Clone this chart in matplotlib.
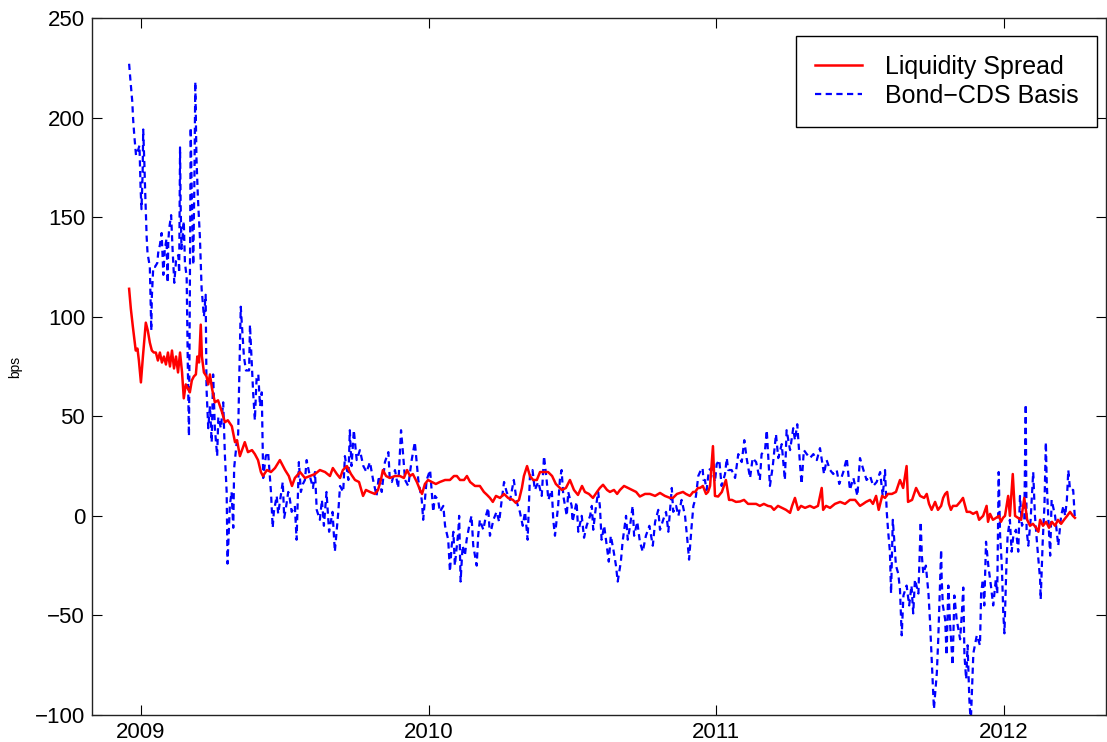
import matplotlib
matplotlib.use("Agg")
import matplotlib.pyplot as plt

plt.rcParams["font.family"] = ["Liberation Sans", "DejaVu Sans"]

# Liquidity spread (bps), dates as decimal years
red_years = [
    2008.959, 2008.965, 2008.972, 2008.982, 2008.988, 2008.993, 2009.000, 2009.007, 2009.017, 2009.024,
    2009.031, 2009.038, 2009.045, 2009.052, 2009.059, 2009.066, 2009.073, 2009.080, 2009.087, 2009.094,
    2009.101, 2009.108, 2009.115, 2009.122, 2009.129, 2009.136, 2009.143, 2009.149, 2009.156, 2009.163,
    2009.170, 2009.177, 2009.184, 2009.191, 2009.196, 2009.202, 2009.208, 2009.212, 2009.219, 2009.228,
    2009.234, 2009.240, 2009.247, 2009.257, 2009.268, 2009.275, 2009.282, 2009.292, 2009.302, 2009.316,
    2009.327, 2009.334, 2009.344, 2009.361, 2009.372, 2009.386, 2009.396, 2009.407, 2009.417, 2009.424,
    2009.438, 2009.452, 2009.466, 2009.483, 2009.501, 2009.514, 2009.525, 2009.535, 2009.553, 2009.570,
    2009.587, 2009.605, 2009.622, 2009.640, 2009.657, 2009.667, 2009.681, 2009.692, 2009.702, 2009.716,
    2009.730, 2009.744, 2009.758, 2009.772, 2009.782, 2009.796, 2009.813, 2009.824, 2009.834, 2009.841,
    2009.852, 2009.865, 2009.883, 2009.900, 2009.914, 2009.925, 2009.935, 2009.945, 2009.959, 2009.970,
    2009.977, 2009.987, 2009.998, 2010.011, 2010.025, 2010.039, 2010.057, 2010.074, 2010.088, 2010.098,
    2010.109, 2010.123, 2010.133, 2010.144, 2010.161, 2010.178, 2010.192, 2010.203, 2010.213, 2010.223,
    2010.234, 2010.248, 2010.262, 2010.276, 2010.293, 2010.303, 2010.314, 2010.324, 2010.331, 2010.342,
    2010.352, 2010.363, 2010.376, 2010.387, 2010.401, 2010.415, 2010.429, 2010.442, 2010.449, 2010.463,
    2010.477, 2010.491, 2010.505, 2010.519, 2010.533, 2010.543, 2010.557, 2010.571, 2010.585, 2010.595,
    2010.606, 2010.620, 2010.630, 2010.644, 2010.655, 2010.665, 2010.679, 2010.693, 2010.707, 2010.721,
    2010.734, 2010.752, 2010.769, 2010.787, 2010.804, 2010.821, 2010.839, 2010.849, 2010.863, 2010.873,
    2010.884, 2010.894, 2010.908, 2010.919, 2010.926, 2010.936, 2010.943, 2010.953, 2010.964, 2010.971,
    2010.978, 2010.988, 2010.995, 2011.006, 2011.019, 2011.033, 2011.044, 2011.054, 2011.068, 2011.082,
    2011.096, 2011.110, 2011.124, 2011.138, 2011.151, 2011.165, 2011.179, 2011.190, 2011.200, 2011.214,
    2011.228, 2011.242, 2011.256, 2011.263, 2011.273, 2011.284, 2011.294, 2011.308, 2011.325, 2011.339,
    2011.353, 2011.366, 2011.371, 2011.381, 2011.395, 2011.412, 2011.430, 2011.447, 2011.464, 2011.482,
    2011.499, 2011.510, 2011.520, 2011.534, 2011.544, 2011.555, 2011.564, 2011.576, 2011.586, 2011.596,
    2011.610, 2011.624, 2011.638, 2011.649, 2011.661, 2011.666, 2011.680, 2011.694, 2011.708, 2011.722,
    2011.731, 2011.739, 2011.748, 2011.760, 2011.770, 2011.781, 2011.788, 2011.795, 2011.802, 2011.808,
    2011.815, 2011.822, 2011.835, 2011.847, 2011.857, 2011.870, 2011.881, 2011.892, 2011.905, 2011.913,
    2011.927, 2011.939, 2011.944, 2011.951, 2011.961, 2011.972, 2011.982, 2011.989, 2011.996, 2012.003,
    2012.014, 2012.020, 2012.030, 2012.038, 2012.048, 2012.059, 2012.070, 2012.080, 2012.090, 2012.100,
    2012.111, 2012.119, 2012.125, 2012.135, 2012.146, 2012.156, 2012.166, 2012.177, 2012.187, 2012.198,
    2012.208, 2012.219, 2012.229, 2012.239, 2012.246,
]
red_bps = [
    114, 104, 95, 83, 84, 78, 67, 80, 97, 93,
    87, 83, 82, 82, 78, 82, 77, 80, 76, 82,
    75, 83, 74, 80, 72, 82, 72, 59, 66, 64,
    62, 68, 70, 71, 80, 77, 96, 80, 72, 70,
    66, 71, 64, 57, 58, 55, 52, 47, 48, 45,
    37, 38, 30, 37, 32, 33, 31, 28, 22, 20,
    23, 22, 24, 28, 23, 20, 15, 19, 22, 19,
    20, 21, 23, 22, 20, 24, 21, 19, 23, 25,
    21, 18, 17, 10, 13, 12, 11, 13, 18, 23,
    20, 19, 20, 20, 19, 23, 20, 21, 17, 13,
    11, 16, 18, 17, 16, 17, 18, 18, 20, 20,
    18, 18, 20, 17, 15, 15, 12, 10.5, 9, 7,
    10, 9, 11, 9, 8, 6.5, 8, 14, 20, 25,
    20, 18, 18, 22, 22, 22, 20, 16, 15, 13,
    14, 18, 13, 10.5, 15, 12, 11, 9, 12, 14,
    15.6, 13, 12, 13, 11, 13, 15, 14, 13, 12,
    9.7, 11, 11, 10, 11.5, 10, 9, 9, 11, 11.5,
    12, 11, 10, 12, 12, 14, 14, 15, 11, 12,
    15, 35, 10, 9.7, 12, 18, 8, 8, 7, 7.2,
    8, 6, 6, 6, 5, 6, 5, 4.7, 3, 5,
    4, 3, 1.5, 5, 9, 3, 5, 4, 5, 4,
    5, 14, 3, 5, 4, 6, 7, 6, 8, 8,
    5, 6, 7, 8, 6, 10, 3, 10, 9, 11,
    11, 12, 18, 14, 25, 7, 8, 14, 10, 9,
    11, 6, 3, 7, 3, 5, 9, 11, 12, 6,
    3, 5, 5, 7, 9, 2, 2, 1, 2, -2,
    0, 5, -3, 1, -2, -1, 0, -3, -1, 0,
    10, 0, 21, 0, -1, -2, 9, -2, -5, -4,
    -6, -8, -2, -5, -3, -6, -3, -5, -2, -4,
    -2, 0, 2, 0, -1,
]

# Bond-CDS basis (bps)
blue_years = [
    2008.959, 2008.964, 2008.970, 2008.973, 2008.977, 2008.983, 2008.991, 2008.995, 2008.999, 2009.002,
    2009.006, 2009.008, 2009.012, 2009.015, 2009.020, 2009.023, 2009.031, 2009.034, 2009.036, 2009.038,
    2009.043, 2009.049, 2009.057, 2009.060, 2009.066, 2009.072, 2009.078, 2009.083, 2009.089, 2009.093,
    2009.095, 2009.098, 2009.105, 2009.110, 2009.116, 2009.122, 2009.130, 2009.133, 2009.136, 2009.138,
    2009.141, 2009.145, 2009.149, 2009.153, 2009.159, 2009.163, 2009.167, 2009.170, 2009.173, 2009.177,
    2009.182, 2009.186, 2009.189, 2009.193, 2009.198, 2009.205, 2009.211, 2009.219, 2009.225, 2009.228,
    2009.234, 2009.240, 2009.246, 2009.251, 2009.257, 2009.265, 2009.269, 2009.278, 2009.286, 2009.292,
    2009.298, 2009.301, 2009.309, 2009.315, 2009.321, 2009.324, 2009.333, 2009.338, 2009.341, 2009.347,
    2009.353, 2009.358, 2009.365, 2009.376, 2009.379, 2009.385, 2009.390, 2009.396, 2009.402, 2009.408,
    2009.414, 2009.420, 2009.423, 2009.425, 2009.434, 2009.442, 2009.452, 2009.458, 2009.462, 2009.472,
    2009.477, 2009.485, 2009.493, 2009.498, 2009.504, 2009.512, 2009.516, 2009.524, 2009.535, 2009.541,
    2009.549, 2009.556, 2009.563, 2009.570, 2009.576, 2009.587, 2009.598, 2009.605, 2009.611, 2009.622,
    2009.629, 2009.636, 2009.645, 2009.654, 2009.666, 2009.674, 2009.686, 2009.692, 2009.703, 2009.709,
    2009.721, 2009.726, 2009.732, 2009.740, 2009.750, 2009.761, 2009.773, 2009.784, 2009.796, 2009.807,
    2009.819, 2009.827, 2009.837, 2009.848, 2009.860, 2009.865, 2009.872, 2009.883, 2009.894, 2009.904,
    2009.910, 2009.918, 2009.929, 2009.941, 2009.952, 2009.964, 2009.976, 2009.981, 2009.993, 2010.005,
    2010.016, 2010.022, 2010.033, 2010.039, 2010.051, 2010.057, 2010.068, 2010.074, 2010.080, 2010.086,
    2010.091, 2010.103, 2010.106, 2010.111, 2010.118, 2010.126, 2010.132, 2010.141, 2010.149, 2010.155,
    2010.167, 2010.172, 2010.178, 2010.190, 2010.199, 2010.207, 2010.213, 2010.225, 2010.236, 2010.245,
    2010.254, 2010.262, 2010.271, 2010.283, 2010.296, 2010.306, 2010.317, 2010.327, 2010.335, 2010.344,
    2010.352, 2010.361, 2010.369, 2010.381, 2010.393, 2010.401, 2010.410, 2010.416, 2010.428, 2010.433,
    2010.439, 2010.450, 2010.456, 2010.462, 2010.468, 2010.480, 2010.485, 2010.497, 2010.500, 2010.514,
    2010.520, 2010.532, 2010.540, 2010.549, 2010.561, 2010.567, 2010.572, 2010.580, 2010.589, 2010.595,
    2010.601, 2010.610, 2010.619, 2010.626, 2010.633, 2010.642, 2010.651, 2010.657, 2010.668, 2010.674,
    2010.686, 2010.692, 2010.700, 2010.709, 2010.714, 2010.725, 2010.734, 2010.744, 2010.755, 2010.767,
    2010.779, 2010.787, 2010.798, 2010.804, 2010.815, 2010.825, 2010.833, 2010.845, 2010.850, 2010.860,
    2010.868, 2010.879, 2010.891, 2010.899, 2010.905, 2010.914, 2010.920, 2010.926, 2010.929, 2010.937,
    2010.946, 2010.952, 2010.955, 2010.960, 2010.966, 2010.974, 2010.984, 2010.995, 2011.001, 2011.010,
    2011.018, 2011.030, 2011.036, 2011.041, 2011.053, 2011.065, 2011.076, 2011.088, 2011.097, 2011.105,
    2011.117, 2011.126, 2011.138, 2011.151, 2011.157, 2011.169, 2011.175, 2011.186, 2011.196, 2011.207,
    2011.215, 2011.227, 2011.238, 2011.244, 2011.256, 2011.267, 2011.273, 2011.281, 2011.291, 2011.296,
    2011.304, 2011.314, 2011.325, 2011.337, 2011.349, 2011.360, 2011.374, 2011.383, 2011.395, 2011.406,
    2011.418, 2011.427, 2011.441, 2011.453, 2011.464, 2011.476, 2011.490, 2011.499, 2011.511, 2011.522,
    2011.534, 2011.545, 2011.557, 2011.569, 2011.578, 2011.586, 2011.592, 2011.597, 2011.603, 2011.607,
    2011.613, 2011.618, 2011.624, 2011.632, 2011.638, 2011.644, 2011.650, 2011.661, 2011.670, 2011.678,
    2011.684, 2011.690, 2011.702, 2011.710, 2011.714, 2011.719, 2011.728, 2011.737, 2011.742, 2011.746,
    2011.750, 2011.756, 2011.766, 2011.771, 2011.781, 2011.783, 2011.787, 2011.795, 2011.800, 2011.806,
    2011.812, 2011.821, 2011.827, 2011.835, 2011.847, 2011.853, 2011.858, 2011.862, 2011.868, 2011.873,
    2011.879, 2011.884, 2011.893, 2011.905, 2011.916, 2011.920, 2011.926, 2011.931, 2011.937, 2011.945,
    2011.954, 2011.962, 2011.971, 2011.976, 2011.981, 2011.986, 2011.992, 2011.997, 2012.001, 2012.007,
    2012.012, 2012.020, 2012.026, 2012.032, 2012.041, 2012.049, 2012.055, 2012.062, 2012.070, 2012.075,
    2012.078, 2012.084, 2012.092, 2012.101, 2012.107, 2012.115, 2012.125, 2012.127, 2012.134, 2012.140,
    2012.145, 2012.148, 2012.154, 2012.160, 2012.165, 2012.177, 2012.188, 2012.198, 2012.206, 2012.212,
    2012.218, 2012.223, 2012.229, 2012.240, 2012.246,
]
blue_bps = [
    227, 218, 208, 199, 191, 181, 184, 186, 164, 154,
    172, 194, 177, 162, 140, 132, 125, 107, 93, 110,
    125, 125, 127, 132, 136, 142, 121, 134, 139, 117,
    137, 144, 151, 134, 117, 128, 131, 122, 185, 157,
    134, 141, 148, 127, 120, 75, 40, 110, 195, 160,
    126, 170, 218, 180, 160, 140, 114, 100, 111, 64,
    44, 55, 37, 71, 44, 30, 49.5, 44, 57, 30,
    12, -24, 5, 12, -6, 24, 37, 41, 64, 105,
    91, 80, 73, 73, 96, 78, 62, 48, 69, 71,
    55, 62, 37, 19, 30, 32, 12, -6, 2, 10,
    1, 9, 17, -1, 4, 12, 10, 2, 5, -12,
    27, 12, 16, 18, 28, 20, 14, 22, 3, -2,
    8, -5, 12, -8, 2, -18, 2, 15, 12, 30,
    18, 43, 25, 43, 28, 33, 25, 22, 27, 18,
    10, 20, 12, 27, 32, 18, 17, 23, 14, 43,
    33, 18, 15, 28, 37, 18, 8, -2, 18, 23,
    2, 10, 8, 2, 5, -5, -12, -28, -15, -8,
    -25, -8, 0, -33, -15, -20, -12, -5, 0, -15,
    -25, -10, -2, -7, 0, 4, -10, -2, 2, -3,
    8, 17, 12, 8, 18, 7, 2, -5, 2, -12,
    20, 23, 13, 17, 10, 30, 18, 8, 13, -2,
    -10, 5, 18, 23, 10, 0, 12, 5, -3, 7,
    -8, 0, -11, -5, 0, 5, -7, 3, 12, 5,
    -12, -5, -15, -23, -10, -17, -25, -33, -23, -13,
    0, -12, -5, 5, -10, -3, -13, -18, -10, -5,
    -15, -3, 3, -7, -2, 2, -8, 14, 2, 5,
    0, 8, 0, -12, -22, -5, 5, 8, 10, 20,
    23, 24, 18, 18, 13, 23, 24, 17, 26, 28,
    15, 21, 29, 23, 23, 19, 31, 27, 38, 29,
    19, 29, 27, 18, 31, 33, 43, 15, 25, 41,
    29, 36, 18, 43, 33, 44, 38, 46, 25, 16,
    33, 31, 29, 31, 28, 34, 21, 28, 23, 21,
    23, 16, 22, 29, 13, 19, 10, 29, 23, 18,
    20, 15, 17, 22, 10, 23, 2, -8, -18, -39,
    -2, -12, -25, -29, -37, -60, -40, -35, -45, -35,
    -49, -32, -39, -3, -20, -29, -25, -39, -52, -65,
    -79, -97, -79, -62, -17, -32, -45, -52, -70, -35,
    -54, -75, -40, -52, -62, -49, -36, -70, -82, -65,
    -92, -104, -69, -60, -65, -39, -32, -45, -13, -25,
    -35, -45, -32, -39, 22, -10, -25, -49, -59, -29,
    -10, -2, -18, -10, -7, -18, 10, -5, -2, 56,
    -7, -15, -2, 22, 0, -15, -32, -42, -13, 5,
    37, 17, -3, -20, 8, 0, -15, 0, 5, 0,
    8, 23, 13, 13, -2,
]

years = [2009, 2010, 2011, 2012]  # x tick positions
y_ticks = [-100, -50, 0, 50, 100, 150, 200, 250]

fig = plt.figure(figsize=(11.07, 7.42), dpi=100)
ax = fig.add_axes([0.0831, 0.0364, 0.916, 0.9394])

ax.plot(red_years, red_bps, color="#ff0000", linewidth=1.8, label="Liquidity Spread", zorder=3)
ax.plot(blue_years, blue_bps, color="#0000ff", linewidth=1.6, linestyle=(0, (2.8, 2.0)),
        label="Bond\u2212CDS Basis", zorder=2)

ax.set_xlim(2008.830, 2012.354)
ax.set_ylim(-100, 250)
ax.set_xticks(years)
ax.set_xticklabels([str(y) for y in years])
ax.set_yticks(y_ticks)
ax.set_ylabel("bps", fontsize=10, labelpad=9)

# MATLAB-like box with inward ticks on all sides
ax.tick_params(direction="in", length=7, width=0.8, labelsize=16, top=True, right=True, pad=5)
for s in ax.spines.values():
    s.set_linewidth(1.0)
    s.set_color("#222222")

leg = ax.legend(loc="upper right", bbox_to_anchor=(0.991, 0.974), borderaxespad=0,
                fontsize=18, frameon=True, fancybox=False, framealpha=1,
                edgecolor="black", handlelength=1.9, handletextpad=0.9,
                borderpad=0.75, labelspacing=0.2)
leg.get_frame().set_linewidth(1.0)

fig.savefig("out.png", dpi=100)
